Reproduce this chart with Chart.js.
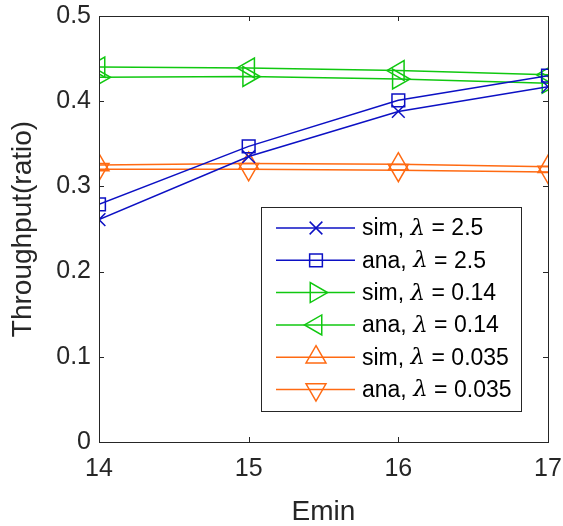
<!DOCTYPE html>
<html>
<head>
<meta charset="utf-8">
<script src="https://cdn.jsdelivr.net/npm/chart.js@4/dist/chart.umd.min.js"></script>
<style>
  html, body { margin: 0; padding: 0; background: #fff; }
  #wrap { width: 563px; height: 526px; }
</style>
</head>
<body>
<div id="wrap"><canvas id="throughputChart" width="563" height="526"></canvas></div>
<script>
var emin = [14, 15, 16, 17];
var xTicks = [14, 15, 16, 17];
var yTicks = [0, 0.1, 0.2, 0.3, 0.4, 0.5];

var simL25 = [0.261, 0.335, 0.388, 0.417];
var anaL25 = [0.279, 0.347, 0.401, 0.430];
var simL014 = [0.428, 0.429, 0.426, 0.421];
var anaL014 = [0.440, 0.439, 0.436, 0.431];
var simL0035 = [0.325, 0.327, 0.326, 0.323];
var anaL0035 = [0.320, 0.320, 0.319, 0.317];

var seriesLabels = ['sim, λ = 2.5', 'ana, λ = 2.5', 'sim, λ = 0.14', 'ana, λ = 0.14', 'sim, λ = 0.035', 'ana, λ = 0.035'];

var BLUE = '#0c10c4';
var GREEN = '#10c810';
var ORANGE = '#ff6a12';
var AXIS = '#262626';
var FONT = '"Liberation Sans", Arial, sans-serif';

function pts(ys) {
    return ys.map(function (y, i) { return { x: emin[i], y: y }; });
}

function series(label, ys, color, style, rotation, radius) {
    return {
        label: label,
        data: pts(ys),
        borderColor: color,
        backgroundColor: 'rgba(0,0,0,0)',
        borderWidth: 1.5,
        pointStyle: style,
        pointRotation: rotation,
        pointRadius: radius,
        pointBorderWidth: 1.5,
        pointBorderColor: color,
        pointBackgroundColor: 'rgba(0,0,0,0)',
        fill: false,
        tension: 0
    };
}

function noPad(s) {
    s.paddingLeft = 0; s.paddingRight = 0; s.paddingTop = 0; s.paddingBottom = 0;
}

// MATLAB style box, inward ticks and in-plot legend
var matlabBox = {
    id: 'matlabBox',
    afterDraw: function (chart) {
        var ctx = chart.ctx;
        var a = chart.chartArea;
        var xs = chart.scales.x, ys = chart.scales.y;
        ctx.save();
        ctx.strokeStyle = AXIS;
        ctx.lineWidth = 1;
        ctx.strokeRect(a.left + 0.5, a.top + 0.5, a.right - a.left, a.bottom - a.top);
        ctx.beginPath();
        xTicks.forEach(function (v) {
            var px = Math.round(xs.getPixelForValue(v)) + 0.5;
            ctx.moveTo(px, a.bottom); ctx.lineTo(px, a.bottom - 5);
            ctx.moveTo(px, a.top); ctx.lineTo(px, a.top + 5);
        });
        yTicks.forEach(function (v) {
            var py = Math.round(ys.getPixelForValue(v)) + 0.5;
            ctx.moveTo(a.left, py); ctx.lineTo(a.left + 5, py);
            ctx.moveTo(a.right, py); ctx.lineTo(a.right - 5, py);
        });
        ctx.stroke();

        // legend
        var bx = a.right - 287, by = a.bottom - 235, bw = 260, bh = 204;
        ctx.fillStyle = '#fff';
        ctx.fillRect(bx, by, bw, bh);
        ctx.strokeStyle = AXIS;
        ctx.strokeRect(bx + 0.5, by + 0.5, bw, bh);
        chart.data.datasets.forEach(function (ds, i) {
            var cy = by + 21 + i * 32.3;
            ctx.strokeStyle = ds.borderColor;
            ctx.fillStyle = 'rgba(0,0,0,0)';
            ctx.lineWidth = 1.5;
            ctx.beginPath();
            ctx.moveTo(bx + 15, cy); ctx.lineTo(bx + 94, cy);
            ctx.stroke();
            Chart.helpers.drawPoint(ctx, {
                pointStyle: ds.pointStyle,
                rotation: ds.pointRotation,
                radius: ds.pointRadius,
                borderWidth: 1.5
            }, bx + 55, cy);
            var parts = ds.label.split('λ');
            var tx = bx + 101;
            ctx.fillStyle = '#000';
            ctx.textBaseline = 'middle';
            ctx.textAlign = 'left';
            ctx.font = '23px ' + FONT;
            ctx.fillText(parts[0], tx, cy + 1);
            tx += ctx.measureText(parts[0]).width;
            ctx.font = 'italic 23px "DejaVu Serif", serif';
            ctx.fillText('λ', tx, cy + 1);
            tx += ctx.measureText('λ').width;
            ctx.font = '23px ' + FONT;
            ctx.fillText(parts[1], tx, cy + 1);
        });
        ctx.restore();
    }
};

var throughputCtx = document.getElementById('throughputChart');
var throughputChart = new Chart(throughputCtx, {
    type: 'line',
    data: {
        datasets: [
            series(seriesLabels[0], simL25, BLUE, 'crossRot', 0, 9),
            series(seriesLabels[1], anaL25, BLUE, 'rect', 0, 9),
            series(seriesLabels[2], simL014, GREEN, 'triangle', 90, 11.5),
            series(seriesLabels[3], anaL014, GREEN, 'triangle', -90, 11.5),
            series(seriesLabels[4], simL0035, ORANGE, 'triangle', 0, 11.5),
            series(seriesLabels[5], anaL0035, ORANGE, 'triangle', 180, 11.5)
        ]
    },
    options: {
        responsive: false,
        animation: false,
        layout: { padding: { top: 16, right: 15, left: 0, bottom: 0 } },
        plugins: {
            legend: { display: false },
            tooltip: { enabled: false }
        },
        scales: {
            x: {
                type: 'linear',
                min: 14,
                max: 17,
                afterBuildTicks: function (s) { s.ticks = xTicks.map(function (v) { return { value: v }; }); },
                afterFit: function (s) { s.height = 84; noPad(s); },
                grid: { display: false, drawTicks: false },
                border: { display: false },
                ticks: { color: AXIS, font: { family: FONT, size: 25 }, padding: 12, maxRotation: 0 },
                title: { display: true, text: 'Emin', color: AXIS, font: { family: FONT, size: 28 }, padding: { top: 6, bottom: -3 } }
            },
            y: {
                min: 0,
                max: 0.5,
                afterBuildTicks: function (s) { s.ticks = yTicks.map(function (v) { return { value: v }; }); },
                afterFit: function (s) { s.width = 99; noPad(s); },
                grid: { display: false, drawTicks: false },
                border: { display: false },
                ticks: {
                    color: AXIS, font: { family: FONT, size: 25 }, padding: 8,
                    callback: function (v) { return v === 0 ? '0' : v.toFixed(1); }
                },
                title: { display: true, text: 'Throughput(ratio)', color: AXIS, font: { family: FONT, size: 28 }, padding: { top: 6, bottom: 0 } }
            }
        }
    },
    plugins: [matlabBox]
});
</script>
</body>
</html>
